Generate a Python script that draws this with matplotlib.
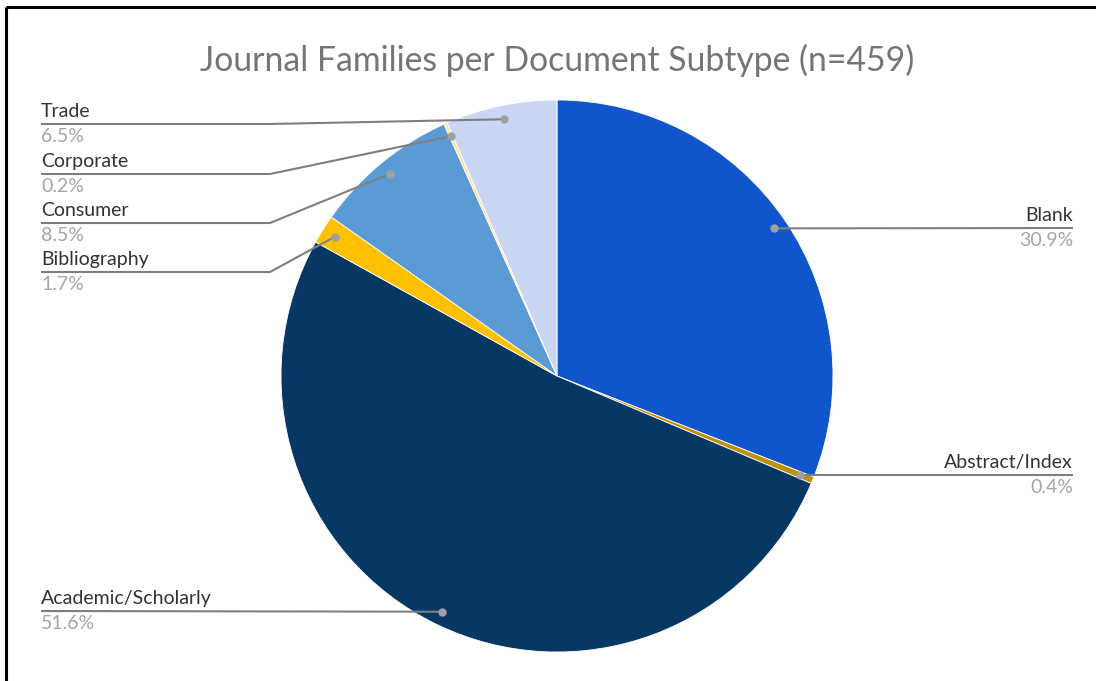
import numpy as np
import matplotlib
matplotlib.use("Agg")
import matplotlib.pyplot as plt

title = "Journal Families per Document Subtype (n=459)"
categories = ["Blank", "Abstract/Index", "Academic/Scholarly", "Bibliography",
              "Consumer", "Corporate", "Trade"]
values = [30.9, 0.4, 51.6, 1.7, 8.5, 0.2, 6.5]
pct_labels = ["30.9%", "0.4%", "51.6%", "1.7%", "8.5%", "0.2%", "6.5%"]
colors = ["#1155CC", "#BF9000", "#073763", "#FFC000", "#5B9BD5", "#FFE599", "#C9D7F5"]

# label layout (pixel coordinates): side, line y
label_side = ["right", "right", "left", "left", "left", "left", "left"]
label_line_y = [228, 475, 611, 272, 223, 174, 124]

W, H = 1096, 681
fig = plt.figure(figsize=(W / 100, H / 100), dpi=100)
ax = fig.add_axes([0, 0, 1, 1])

cx, cy, R = 557, 376, 276
font = "Lato"

# y inverted axis: startangle -90 points up on screen, counterclock=True goes clockwise on screen
wedges, _ = ax.pie(values, colors=colors, startangle=-90, counterclock=True,
                   center=(cx, cy), radius=R,
                   wedgeprops=dict(linewidth=0.6, edgecolor="white"))
ax.set_xlim(0, W)
ax.set_ylim(H, 0)
ax.set_aspect("equal")
ax.axis("off")

left_x, elbow_x, right_x = 41, 270, 1073
line_col = "#7f7f7f"
for w, name, pct, side, ly in zip(wedges, categories, pct_labels, label_side, label_line_y):
    mid = np.deg2rad((w.theta1 + w.theta2) / 2)
    px = cx + 0.95 * R * np.cos(mid)
    py = cy + 0.95 * R * np.sin(mid)
    if side == "left":
        if abs(py - ly) < 3:
            xs, ys = [px, left_x], [py, ly]
        else:
            xs, ys = [px, elbow_x, left_x], [py, ly, ly]
        ha, tx = "left", left_x
    else:
        xs, ys = [px, right_x], [py, ly]
        ha, tx = "right", right_x
    ax.plot(xs, ys, color=line_col, lw=1.5, solid_capstyle="butt", zorder=3)
    ax.plot([px], [py], "o", color="#a0a0a0", ms=6, mec="none", zorder=4)
    ax.text(tx, ly - 4, name, ha=ha, va="bottom", fontsize=14, color="#333333", family=font)
    ax.text(tx, ly + 4, pct, ha=ha, va="top", fontsize=14, color="#a5a5a5", family=font)

ax.text(cx, 60, title, ha="center", va="center", fontsize=24.3, color="#757575", family=font)

# frame (top and left edges visible)
ax.plot([6, W], [7, 7], color="black", lw=2.2, solid_capstyle="butt", zorder=5)
ax.plot([6, 6], [7, H], color="black", lw=2.2, solid_capstyle="butt", zorder=5)

fig.savefig("out.png", dpi=100, facecolor="white")
